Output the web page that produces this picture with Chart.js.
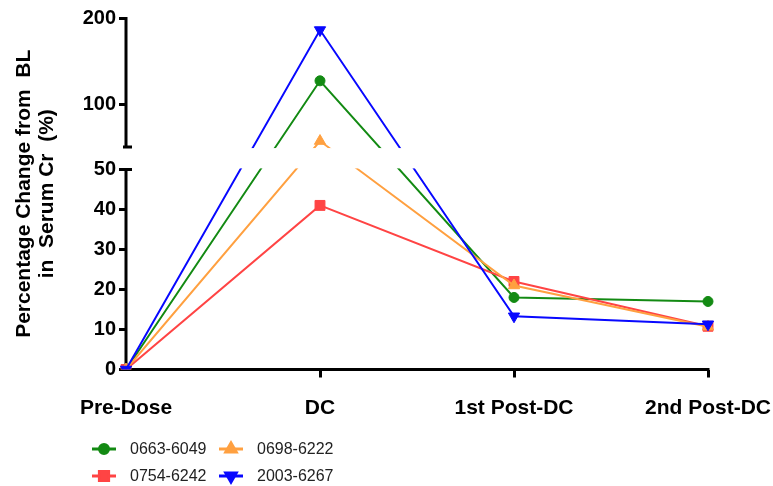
<!DOCTYPE html>
<html>
<head>
<meta charset="utf-8">
<script src="https://cdn.jsdelivr.net/npm/chart.js@4"></script>
<style>
  body { margin: 0; background: #fff; }
  canvas { display: block; }
</style>
</head>
<body>
<canvas id="chart" width="773" height="486" style="width:773px;height:486px"></canvas>
<script>
const categories = ['Pre-Dose', 'DC', '1st Post-DC', '2nd Post-DC'];
const seriesNames = ['0663-6049', '0698-6222', '0754-6242', '2003-6267'];
const s0663 = [0, 127, 18, 17];
const s0698 = [0, 57, 21, 10.7];
const s0754 = [0, 41, 22, 10.8];
const s2003 = [0, 186, 13.3, 11.3];
const yTicks = [0, 10, 20, 30, 40, 50, 100, 200];

// broken axis: 0-50 on the lower part, 50-200 squeezed on top
const LOW = 0.5693;  // decimal where the lower segment ends
const UP0 = 0.6328;  // decimal where the upper segment starts

class BrokenScale extends Chart.LinearScale {
  getPixelForValue(v) {
    const d = v <= 50 ? v / 50 * LOW : UP0 + (v - 50) / 150 * (1 - UP0);
    return this.getPixelForDecimal(d);
  }
  getValueForPixel(p) {
    const d = this.getDecimalForPixel(p);
    return d <= LOW ? d / LOW * 50 : 50 + (d - UP0) / (1 - UP0) * 150;
  }
}
BrokenScale.id = 'broken';
BrokenScale.defaults = Chart.LinearScale.defaults;
Chart.register(BrokenScale);

const colors = ['#138a13', '#ffa040', '#ff4444', '#0808ff'];
const styles = [
  { pointStyle: 'circle', radius: 5, rotation: 0 },
  { pointStyle: 'triangle', radius: 6.5, rotation: 0 },
  { pointStyle: 'rect', radius: 7, rotation: 0 },
  { pointStyle: 'triangle', radius: 6.5, rotation: 180 }
];
const values = [s0663, s0698, s0754, s2003];
const drawOrder = [3, 1, 2, 0];

const axisPlugin = {
  id: 'brokenAxis',
  beforeDatasetsDraw(chart) {
    const { ctx, chartArea } = chart;
    const y = chart.scales.y;
    const x0 = chartArea.left;
    ctx.save();
    ctx.strokeStyle = '#000';
    ctx.lineWidth = 3;
    ctx.beginPath();
    ctx.moveTo(x0, chartArea.bottom + 1.5);
    ctx.lineTo(x0, y.getPixelForDecimal(LOW));
    ctx.moveTo(x0, y.getPixelForDecimal(UP0));
    ctx.lineTo(x0, chartArea.top - 1);
    ctx.moveTo(x0 - 1.5, chartArea.bottom);
    ctx.lineTo(chartArea.right + 1.5, chartArea.bottom);
    ctx.stroke();
    ctx.restore();
  },
  afterDatasetsDraw(chart) {
    const { ctx, chartArea } = chart;
    const y = chart.scales.y;
    const x0 = chartArea.left;
    const gTop = y.getPixelForDecimal(UP0);
    const gBot = y.getPixelForDecimal(LOW);
    ctx.save();
    ctx.fillStyle = '#fff';
    ctx.fillRect(x0 - 1, gTop + 1, chartArea.right - x0 + 20, gBot - gTop - 2);
    ctx.strokeStyle = '#000';
    ctx.lineWidth = 3;
    ctx.beginPath();
    ctx.moveTo(x0 - 3, gTop);
    ctx.lineTo(x0 + 6, gTop);
    ctx.moveTo(x0 - 2, gBot);
    ctx.lineTo(x0 + 6, gBot);
    ctx.stroke();
    ctx.restore();
  },
  afterDraw(chart) {
    // legend, two per row
    const { ctx } = chart;
    const colX = [92, 219];
    const rowY = [449, 476];
    ctx.save();
    ctx.font = '16px "Liberation Sans", Arial, sans-serif';
    ctx.textBaseline = 'middle';
    seriesNames.forEach((name, i) => {
      const lx = colX[i % 2];
      const ly = rowY[Math.floor(i / 2)];
      ctx.strokeStyle = colors[i];
      ctx.lineWidth = 3;
      ctx.beginPath();
      ctx.moveTo(lx, ly);
      ctx.lineTo(lx + 24, ly);
      ctx.stroke();
      ctx.fillStyle = colors[i];
      Chart.helpers.drawPoint(ctx, {
        pointStyle: styles[i].pointStyle,
        radius: styles[i].radius - 0.5,
        rotation: styles[i].rotation,
        borderWidth: 1
      }, lx + 12, ly);
      ctx.fillStyle = '#222';
      ctx.fillText(name, lx + 38, ly + 1);
    });
    ctx.restore();
  }
};

new Chart(document.getElementById('chart'), {
  type: 'line',
  data: {
    labels: categories,
    datasets: seriesNames.map((name, i) => ({
      label: name,
      data: values[i],
      borderColor: colors[i],
      backgroundColor: colors[i],
      borderWidth: 2,
      pointStyle: styles[i].pointStyle,
      pointRadius: styles[i].radius,
      pointRotation: styles[i].rotation,
      pointBorderWidth: 1,
      order: drawOrder[i],
      tension: 0
    }))
  },
  options: {
    responsive: false,
    animation: false,
    layout: { padding: { left: 0, right: 65, top: 18, bottom: 0 } },
    plugins: { legend: { display: false }, tooltip: { enabled: false } },
    scales: {
      x: {
        offset: false,
        border: { display: false },
        grid: {
          drawOnChartArea: false,
          tickLength: 8,
          lineWidth: 3,
          color: ctx => ctx.index === 0 ? 'rgba(0,0,0,0)' : '#000'
        },
        ticks: {
          color: '#000',
          padding: 18,
          maxRotation: 0,
          font: { family: '"Liberation Sans", Arial, sans-serif', size: 21, weight: 'bold' }
        },
        afterFit: axis => {
          axis.height = 116.5;
          axis.paddingLeft = 0;
          axis.paddingRight = 0;
        }
      },
      y: {
        type: 'broken',
        min: 0,
        max: 200,
        border: { display: false },
        grid: { drawOnChartArea: false, tickLength: 7, lineWidth: 3, color: '#000' },
        ticks: {
          color: '#000',
          padding: 3,
          callback: v => String(v),
          font: { family: '"Liberation Sans", Arial, sans-serif', size: 20, weight: 'bold' }
        },
        afterBuildTicks: axis => { axis.ticks = yTicks.map(v => ({ value: v })); },
        title: {
          display: true,
          text: ['Percentage Change from  BL', 'in  Serum Cr  (%)'],
          color: '#000',
          padding: { top: 13 },
          font: { family: '"Liberation Sans", Arial, sans-serif', size: 21, weight: 'bold', lineHeight: 1.1 }
        },
        afterFit: axis => {
          axis.width = 126;
          axis.paddingTop = 0;
          axis.paddingBottom = 0;
        }
      }
    }
  },
  plugins: [axisPlugin]
});
</script>
</body>
</html>
